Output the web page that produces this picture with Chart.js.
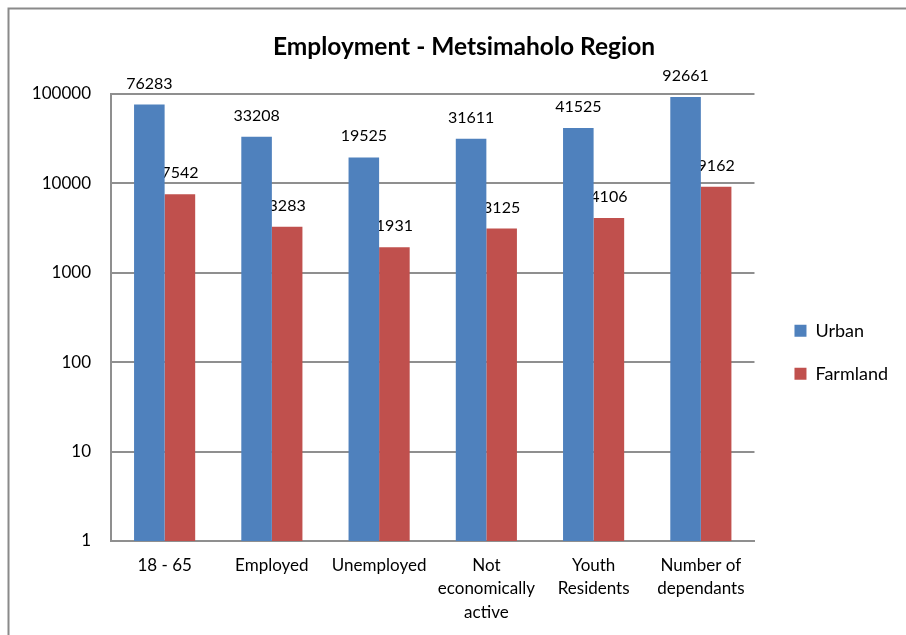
<!DOCTYPE html>
<html>
<head>
<meta charset="utf-8">
<script src="https://cdn.jsdelivr.net/npm/chart.js@4.4.1/dist/chart.umd.min.js"></script>
<style>
  html, body { margin: 0; padding: 0; background: #fff; overflow: hidden; }
  #wrap { width: 906px; height: 635px; }
</style>
</head>
<body>
<div id="wrap"><canvas id="chart" width="906" height="635"></canvas></div>
<script>
// Employment - Metsimaholo Region, log scale column chart
const categories = [['18 - 65'], ['Employed'], ['Unemployed'], ['Not', 'economically', 'active'], ['Youth', 'Residents'], ['Number of', 'dependants']];
const urban = [76283, 33208, 19525, 31611, 41525, 92661];
const farmland = [7542, 3283, 1931, 3125, 4106, 9162];
const yTicks = [1, 10, 100, 1000, 10000, 100000];

const GRID = '#8f8f8f';
Chart.defaults.font.family = "Lato, 'Open Sans', sans-serif";
Chart.defaults.color = '#000';

// grey frame round the chart (only top and left edges are visible)
const framePlugin = {
  id: 'frame',
  beforeDraw(chart) {
    const ctx = chart.ctx;
    ctx.save();
    ctx.fillStyle = '#fff';
    ctx.fillRect(0, 0, chart.width, chart.height);
    ctx.strokeStyle = '#8a8a8a';
    ctx.lineWidth = 2;
    ctx.beginPath();
    ctx.moveTo(8.5, chart.height);
    ctx.lineTo(8.5, 8.5);
    ctx.lineTo(chart.width, 8.5);
    ctx.stroke();
    ctx.restore();
  },
};

// value labels above each bar; drawn per dataset so urban bars overlap farmland labels
const valueLabels = {
  id: 'valueLabels',
  afterDatasetDraw(chart, args) {
    const ctx = chart.ctx;
    const ds = chart.data.datasets[args.index];
    ctx.save();
    ctx.font = "16px Lato, 'Open Sans', sans-serif";
    ctx.fillStyle = '#000';
    ctx.textAlign = 'center';
    ctx.textBaseline = 'alphabetic';
    args.meta.data.forEach((bar, i) => {
      ctx.fillText(String(ds.data[i]), bar.x, bar.y - 16);
    });
    ctx.restore();
  },
};

new Chart(document.getElementById('chart').getContext('2d'), {
  type: 'bar',
  data: {
    labels: categories,
    datasets: [
      { label: 'Urban', data: urban, backgroundColor: '#4F81BD', borderWidth: 0 },
      { label: 'Farmland', data: farmland, backgroundColor: '#C0504D', borderWidth: 0 },
    ],
  },
  options: {
    responsive: false,
    animation: false,
    layout: { padding: { left: 30, right: 8, top: 0, bottom: 0 } },
    datasets: { bar: { barPercentage: 1, categoryPercentage: 0.57 } },
    scales: {
      x: {
        grid: { display: false },
        border: { display: true, color: GRID, width: 2 },
        ticks: { font: { size: 17, lineHeight: 1.37 }, padding: 5, maxRotation: 0, autoSkip: false },
        afterFit: (s) => { s.height = 94; },
      },
      y: {
        type: 'logarithmic',
        min: 1,
        max: 100000,
        afterBuildTicks: (s) => { s.ticks = yTicks.map(v => ({ value: v })); },
        ticks: { callback: (v) => String(v), font: { size: 17 }, padding: 20 },
        grid: { color: GRID, lineWidth: 2, drawTicks: false },
        border: { display: true, color: GRID, width: 2 },
        afterFit: (s) => { s.width = 81; },
      },
      y2: {
        position: 'right',
        grid: { display: false },
        ticks: { display: false },
        border: { display: false },
        afterFit: (s) => { s.width = 15; },
      },
    },
    plugins: {
      title: {
        display: true,
        text: 'Employment - Metsimaholo Region',
        color: '#000',
        font: { size: 24.5, weight: 'bold' },
        padding: { top: 32, bottom: 32.6 },
      },
      legend: {
        position: 'right',
        align: 'center',
        title: { display: true, text: '', padding: { top: 55, bottom: 0 }, font: { size: 12 } },
        labels: { boxWidth: 12, boxHeight: 12, padding: 25, font: { size: 18 }, color: '#000' },
      },
      tooltip: { enabled: false },
    },
  },
  plugins: [framePlugin, valueLabels],
});
</script>
</body>
</html>
